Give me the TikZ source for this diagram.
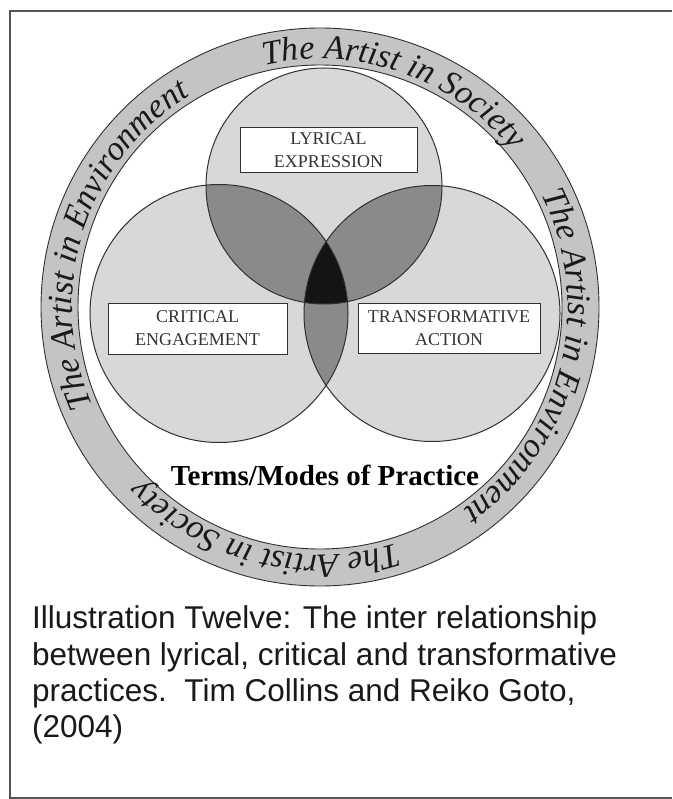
\documentclass[tikz,border=0pt]{standalone}
\usepackage{fontspec}
\setmainfont{Liberation Serif}
\newfontfamily\capfont{Liberation Sans}
\usetikzlibrary{decorations.text}
\definecolor{ringgray}{HTML}{C4C4C4}
\definecolor{circfill}{HTML}{D8D8D8}
\definecolor{overfill}{HTML}{8A8A8A}
\definecolor{triplefill}{HTML}{141414}
\definecolor{edgecol}{HTML}{303030}
\definecolor{framecol}{HTML}{555555}
\newcommand\ringtext{\itshape\fontsize{34}{34}\selectfont}
\tikzset{
  ringedge/.style={draw=edgecol, line width=0.9pt},
  circedge/.style={draw=edgecol, line width=1pt},
  labelbox/.style={draw=edgecol, fill=white, line width=1pt, align=center,
    inner sep=0pt, text=black!80, font=\fontsize{18}{23}\selectfont},
  captext/.style={inner sep=0pt, anchor=base west, text=black!90,
    font=\capfont\fontsize{31.5}{36}\selectfont},
  ringlabel/.style={decorate, decoration={text along path, text align=center,
    text color=black!90}}
}
\begin{document}
\begin{tikzpicture}[x=1pt,y=-1pt]
\useasboundingbox (0,0) rectangle (672,799);
\fill[white] (0,0) rectangle (672,799);
\draw[framecol, line width=1.5pt] (672,11) -- (10,11) -- (10,798) -- (672,798);

\coordinate (O) at (320,307);
\coordinate (L) at (324,186);
\coordinate (C) at (219,313.5);
\coordinate (T) at (432,313.5);

% ring
\fill[ringgray, even odd rule] (O) circle[radius=279] (O) circle[radius=242];
\draw[ringedge] (O) circle[radius=279];
\draw[ringedge] (O) circle[radius=242];

% venn fills
\fill[circfill] (L) circle[radius=118];
\fill[circfill] (C) circle[radius=129];
\fill[circfill] (T) circle[radius=128];
\begin{scope}
  \clip (L) circle[radius=118];
  \fill[overfill] (C) circle[radius=129];
  \fill[overfill] (T) circle[radius=128];
\end{scope}
\begin{scope}
  \clip (C) circle[radius=129];
  \fill[overfill] (T) circle[radius=128];
\end{scope}
\begin{scope}
  \clip (L) circle[radius=118];
  \clip (C) circle[radius=129];
  \fill[triplefill] (T) circle[radius=128];
\end{scope}
\draw[circedge] (L) circle[radius=118];
\draw[circedge] (C) circle[radius=129];
\draw[circedge] (T) circle[radius=128];

% ring texts
\begin{scope}[shift={(O)}, y=1pt]
  \path[ringlabel, decoration={text={|\ringtext|The Artist in Society}}]
    (126:248) arc[start angle=126, end angle=16, radius=248];
  \path[ringlabel, decoration={text={|\ringtext|The Artist in Environment}}]
    (41:248) arc[start angle=41, end angle=-69, radius=248];
  \path[ringlabel, decoration={text={|\ringtext|The Artist in Society}}]
    (-49:248) arc[start angle=-49, end angle=-159, radius=248];
  \path[ringlabel, decoration={text={|\ringtext|The Artist in Environment}}]
    (217.5:248) arc[start angle=217.5, end angle=107.5, radius=248];
\end{scope}

% labels
\node[labelbox, minimum width=177pt, minimum height=45pt] (lyr) at (328.5,150.5) {LYRICAL\\EXPRESSION};
\node[labelbox, minimum width=179pt, minimum height=51pt] (crit) at (197.5,328.5) {CRITICAL\\ENGAGEMENT};
\node[labelbox, minimum width=182pt, minimum height=50pt] (trans) at (449,328) {TRANSFORMATIVE\\ACTION};

\node[font=\bfseries\fontsize{29}{29}\selectfont, inner sep=0pt] (terms) at (325,475) {Terms/Modes of Practice};

% caption
\node[captext] (cap1) at (32,628) {Illustration Twelve: The inter relationship};
\node[captext] (cap2) at (32,665) {between lyrical, critical and transformative};
\node[captext] (cap3) at (32,701) {practices.\ \ Tim Collins and Reiko Goto,};
\node[captext] (cap4) at (32,737) {(2004)};
\end{tikzpicture}
\end{document}
